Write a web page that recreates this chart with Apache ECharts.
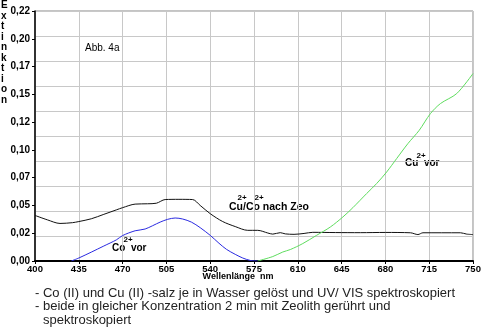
<!DOCTYPE html>
<html><head><meta charset="utf-8">
<script src="https://cdn.jsdelivr.net/npm/echarts@6/dist/echarts.min.js"></script>
<style>html,body{margin:0;padding:0;background:#fff}#c{width:485px;height:330px}</style>
</head><body><div id="c"></div>
<script>
// Wavelength ticks (nm)
const xTicks = [400, 435, 470, 505, 540, 575, 610, 645, 680, 715, 750];
const yTickLabels = ['0,00','0,02','0,05','0,07','0,10','0,12','0,15','0,17','0,20','0,22'];

// Cu2+/Co2+ nach Zeo (black)
const zeoNm  = [400,410,420,430,435,445,455,465,470,480,490,497,504,515,526,532,540,550,560,570,578,586,590,596,600,607,615,622,640,660,680,700,706,710,740,745,750];
const zeoVal = [0.041,0.037,0.0338,0.0345,0.0355,0.038,0.042,0.046,0.048,0.0512,0.0515,0.052,0.0553,0.0555,0.0553,0.050,0.0426,0.0355,0.031,0.0276,0.0276,0.0252,0.0242,0.0255,0.0244,0.024,0.0248,0.0258,0.0256,0.0255,0.0257,0.0254,0.0238,0.0254,0.0254,0.0242,0.0238];

// Co2+ vor (blue)
const coNm  = [429,435,445,455,465,470,480,488,500,506,512,518,525,532,540,547,553,560,566,572,578];
const coVal = [0,0.0027,0.008,0.0135,0.019,0.0229,0.0272,0.0288,0.035,0.0375,0.0387,0.0378,0.035,0.030,0.0231,0.016,0.0105,0.006,0.0027,0.0005,0];

// Cu2+ vor (green)
const cuNm  = [578,590,598,604,614,625,636,646,654,665,673,681,689,698,707,716,724,737,750];
const cuVal = [0,0.004,0.0081,0.0103,0.0157,0.0231,0.0306,0.0396,0.048,0.0607,0.0697,0.0801,0.0922,0.1057,0.1176,0.1327,0.1417,0.1507,0.1687];

const pairs = (xs, ys) => xs.map((x, i) => [x, ys[i]]);
const FONT = '"Liberation Sans", Arial, sans-serif';

const chart = echarts.init(document.getElementById('c'), null, {renderer: 'canvas'});
chart.setOption({
  animation: false,
  backgroundColor: '#fff',
  grid: {left: 35, top: 11, width: 438, height: 250, show: true, borderColor: '#888', borderWidth: 1, containLabel: false},
  xAxis: {
    type: 'value', min: 400, max: 750, interval: 35,
    axisLine: {show: true, onZero: false, lineStyle: {color: '#000', width: 2}},
    axisTick: {show: true, length: 3, lineStyle: {color: '#000'}},
    axisLabel: {margin: 3, fontFamily: FONT, fontSize: 9.5, fontWeight: 'bold', color: '#000',
      formatter: v => String(xTicks[Math.round((v - 400) / 35)])},
    splitLine: {show: true, lineStyle: {color: '#c8c8c8', width: 1}}
  },
  yAxis: [{
    type: 'value', min: 0, max: 0.225, interval: 0.025,
    axisLine: {show: true, onZero: false, lineStyle: {color: '#000', width: 1.5}},
    axisTick: {show: true, length: 3, lineStyle: {color: '#000'}},
    axisLabel: {margin: 5, fontFamily: FONT, fontSize: 10, fontWeight: 'bold', color: '#000',
      formatter: v => yTickLabels[Math.round(v / 0.025)]},
    splitLine: {show: false}
  }, {
    type: 'value', min: 0, max: 0.225, interval: 0.0225, position: 'left',
    axisLine: {show: false}, axisTick: {show: false}, axisLabel: {show: false},
    splitLine: {show: true, lineStyle: {color: '#c8c8c8', width: 1}}
  }],
  series: [
    {type: 'line', data: pairs(zeoNm, zeoVal), showSymbol: false, smooth: 0.3, lineStyle: {color: '#111', width: 1}, z: 3},
    {type: 'line', data: pairs(coNm, coVal), showSymbol: false, smooth: 0.3, lineStyle: {color: '#2a2ae0', width: 1}, z: 3},
    {type: 'line', data: pairs(cuNm, cuVal), showSymbol: false, smooth: 0.3, lineStyle: {color: '#5edc5e', width: 1}, z: 3}
  ],
  graphic: [
    {type: 'text', left: 1, top: 0, style: {text: 'E\nx\nt\ni\nn\nk\nt\ni\no\nn', font: 'bold 10px ' + FONT, fill: '#000', lineHeight: 10.5, align: 'center', width: 10}},
    {type: 'text', x: 238, y: 277, style: {text: 'Wellenlänge  nm', font: 'bold 9px ' + FONT, fill: '#000', align: 'center', verticalAlign: 'middle'}},
    {type: 'text', x: 85, y: 48, style: {text: 'Abb. 4a', font: '10px ' + FONT, fill: '#000', verticalAlign: 'middle'}},
    {type: 'text', x: 112, y: 248, style: {text: 'Co  vor', font: 'bold 10px ' + FONT, fill: '#000', verticalAlign: 'middle'}},
    {type: 'text', x: 128, y: 240, style: {text: '2+', font: 'bold 8px ' + FONT, fill: '#000', align: 'center', verticalAlign: 'middle'}},
    {type: 'text', x: 229, y: 207, style: {text: 'Cu/Co nach Zeo', font: 'bold 10.5px ' + FONT, fill: '#000', verticalAlign: 'middle'}},
    {type: 'text', x: 242, y: 198, style: {text: '2+', font: 'bold 8px ' + FONT, fill: '#000', align: 'center', verticalAlign: 'middle'}},
    {type: 'text', x: 259, y: 198, style: {text: '2+', font: 'bold 8px ' + FONT, fill: '#000', align: 'center', verticalAlign: 'middle'}},
    {type: 'text', x: 405, y: 163, style: {text: 'Cu  vor', font: 'bold 10px ' + FONT, fill: '#000', verticalAlign: 'middle'}},
    {type: 'text', x: 421, y: 156, style: {text: '2+', font: 'bold 8px ' + FONT, fill: '#000', align: 'center', verticalAlign: 'middle'}},
    {type: 'text', x: 35, y: 293, style: {text: '- Co (II) und Cu (II) -salz je in Wasser gelöst und UV/ VIS spektroskopiert', font: '13px ' + FONT, fill: '#222', verticalAlign: 'middle'}},
    {type: 'text', x: 35, y: 306.5, style: {text: '- beide in gleicher Konzentration 2 min mit Zeolith gerührt und', font: '13px ' + FONT, fill: '#222', verticalAlign: 'middle'}},
    {type: 'text', x: 43, y: 320, style: {text: 'spektroskopiert', font: '13px ' + FONT, fill: '#222', verticalAlign: 'middle'}}
  ]
});
</script>
</body></html>
